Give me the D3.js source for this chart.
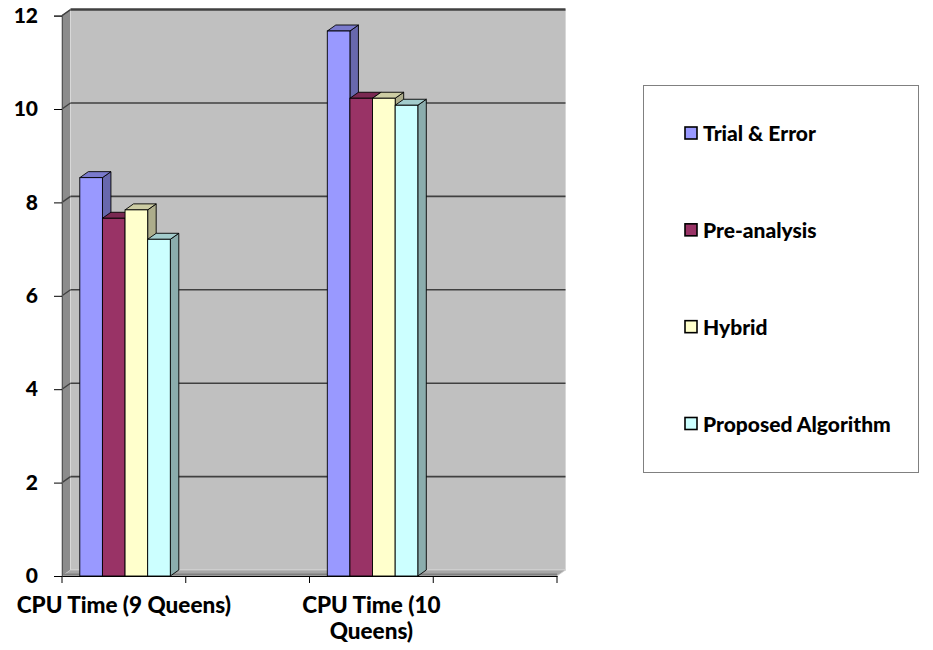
<!DOCTYPE html>
<html>
<head>
<meta charset="utf-8">
<script src="https://cdn.jsdelivr.net/npm/d3@7"></script>
<style>
  html, body { margin: 0; padding: 0; background: #ffffff; }
  svg { display: block; font-family: Lato, "Open Sans", "Liberation Sans", sans-serif; }
  text { font-weight: 900; font-family: Lato, sans-serif; }
</style>
</head>
<body>
<svg id="chart" width="933" height="650"></svg>
<script>
// ---- data ----
const categories = ["CPU Time (9 Queens)", "gap1", "CPU Time (10 Queens)", "gap2"];
const categoryLabels = ["CPU Time (9 Queens)", "", "CPU Time (10\nQueens)", ""];
const seriesNames = ["Trial & Error", "Pre-analysis", "Hybrid", "Proposed Algorithm"];
const seriesColors = ["#9999FF", "#993366", "#FFFFCC", "#CCFFFF"];
const trialError = [8.53, null, 11.67, null];
const preAnalysis = [7.66, null, 10.23, null];
const hybrid = [7.84, null, 10.23, null];
const proposed = [7.21, null, 10.08, null];
const yTicks = [0, 2, 4, 6, 8, 10, 12];

const seriesValues = [trialError, preAnalysis, hybrid, proposed];

// ---- layout ----
const svg = d3.select("#chart");
const pLeft = 62, pRight = 557, pBottom = 576, pTop = 15.6;
const dx = 8.5, dy = -6;   // 3D depth offset

const x = d3.scaleBand().domain(categories).range([pLeft, pRight]).padding(0);
const y = d3.scaleLinear().domain([0, 12]).range([pBottom, pTop]);

function shade(c, k) {
  const r = d3.rgb(c);
  return d3.rgb(r.r * k, r.g * k, r.b * k).formatHex();
}

const g = svg.append("g");

// left side wall
g.append("polygon")
  .attr("points", [[pLeft, y(12)], [pLeft + dx, y(12) + dy], [pLeft + dx, y(0) + dy], [pLeft, y(0)]].join(" "))
  .attr("fill", "#8c8c8c").attr("stroke", "#808080").attr("stroke-width", 0.8);

// back wall
g.append("rect")
  .attr("x", pLeft + dx).attr("y", y(12) + dy)
  .attr("width", pRight - pLeft).attr("height", y(0) - y(12))
  .attr("fill", "#c0c0c0").attr("stroke", "#d8d8d8").attr("stroke-width", 1);

// floor
g.append("polygon")
  .attr("points", [[pLeft, y(0)], [pRight, y(0)], [pRight + dx, y(0) + dy], [pLeft + dx, y(0) + dy]].join(" "))
  .attr("fill", "#a6a6a6").attr("stroke", "#d0d0d0").attr("stroke-width", 0.8);
g.append("line")
  .attr("x1", pLeft).attr("x2", pRight).attr("y1", y(0) - 1.5).attr("y2", y(0) - 1.5)
  .attr("stroke", "#808080").attr("stroke-width", 2);

// gridlines (back wall + left wall diagonal)
const grid = g.append("g");
yTicks.filter(v => v > 0).forEach(v => {
  grid.append("line")
    .attr("x1", pLeft + dx).attr("x2", pRight + dx)
    .attr("y1", y(v) + dy).attr("y2", y(v) + dy)
    .attr("stroke", "#404040").attr("stroke-width", v === 12 ? 2.5 : 1.6);
  grid.append("line")
    .attr("x1", pLeft).attr("x2", pLeft + dx)
    .attr("y1", y(v)).attr("y2", y(v) + dy)
    .attr("stroke", "#404040").attr("stroke-width", 1.4);
});

// y axis
const yAxis = d3.axisLeft(y).tickValues(yTicks).tickSize(8).tickPadding(16).tickFormat(d3.format("d"));
const ya = svg.append("g").attr("transform", `translate(${pLeft},0)`).call(yAxis);
ya.attr("font-family", "Lato, sans-serif");
ya.select(".domain").attr("stroke", "#555").attr("stroke-width", 1);
ya.selectAll(".tick line").attr("stroke", "#000").attr("stroke-width", 1);
ya.selectAll(".tick text").attr("font-size", 21).attr("fill", "#000");

// x axis
const xAxis = d3.axisBottom(x).tickValues([]).tickSizeOuter(0);
const xa = svg.append("g").attr("transform", `translate(0,${pBottom})`).call(xAxis);
xa.attr("font-family", "Lato, sans-serif");
xa.select(".domain").attr("stroke", "#000").attr("stroke-width", 1);
const boundaries = categories.map(c => x(c)).concat([pRight]);
xa.selectAll(".btick").data(boundaries).enter().append("line")
  .attr("x1", d => d).attr("x2", d => d).attr("y1", 0).attr("y2", 7)
  .attr("stroke", "#000").attr("stroke-width", 1);
categories.forEach((c, i) => {
  const lines = categoryLabels[i] ? categoryLabels[i].split("\n") : [];
  const t = xa.append("text")
    .attr("x", x(c) + x.bandwidth() / 2).attr("y", 37)
    .attr("text-anchor", "middle").attr("font-size", 22.5)
    .attr("fill", "#000");
  lines.forEach((ln, j) => {
    t.append("tspan").attr("x", x(c) + x.bandwidth() / 2).attr("dy", j === 0 ? 0 : 26).text(ln);
  });
});

// bars
const inner = d3.scaleBand().domain(seriesNames).range([17.8, 17.8 + 90.5]).padding(0);
const bw = inner.bandwidth();
const barsG = svg.append("g");
categories.forEach((c, ci) => {
  seriesNames.forEach((s, si) => {
    const v = seriesValues[si][ci];
    if (v == null) return;
    const x0 = x(c) + inner(s), x1 = x0 + bw;
    const yt = y(v), yb = y(0);
    const col = seriesColors[si];
    const bg = barsG.append("g");
    bg.append("polygon")
      .attr("points", [[x1, yt], [x1 + dx, yt + dy], [x1 + dx, yb + dy], [x1, yb]].join(" "))
      .attr("fill", shade(col, 0.68)).attr("stroke", "#000").attr("stroke-width", 0.9).attr("stroke-linejoin", "round");
    bg.append("polygon")
      .attr("points", [[x0, yt], [x1, yt], [x1 + dx, yt + dy], [x0 + dx, yt + dy]].join(" "))
      .attr("fill", shade(col, 0.8)).attr("stroke", "#000").attr("stroke-width", 0.9).attr("stroke-linejoin", "round");
    bg.append("rect")
      .attr("x", x0).attr("y", yt).attr("width", bw).attr("height", yb - yt)
      .attr("fill", col).attr("stroke", "#000").attr("stroke-width", 0.9);
  });
});

// legend
const lg = svg.append("g");
lg.append("rect").attr("x", 643.5).attr("y", 85.5).attr("width", 275).attr("height", 387)
  .attr("fill", "#fff").attr("stroke", "#808080").attr("stroke-width", 1);
const ly = d3.scalePoint().domain(seriesNames).range([133.5, 424]);
seriesNames.forEach((s, i) => {
  lg.append("rect").attr("x", 685).attr("y", ly(s) - 6.5).attr("width", 12).attr("height", 12)
    .attr("fill", seriesColors[i]).attr("stroke", "#000").attr("stroke-width", 1.6);
  lg.append("text").attr("x", 703).attr("y", ly(s)).attr("dy", "0.36em")
    .attr("font-size", 21).attr("fill", "#000").text(s);
});
</script>
</body>
</html>
